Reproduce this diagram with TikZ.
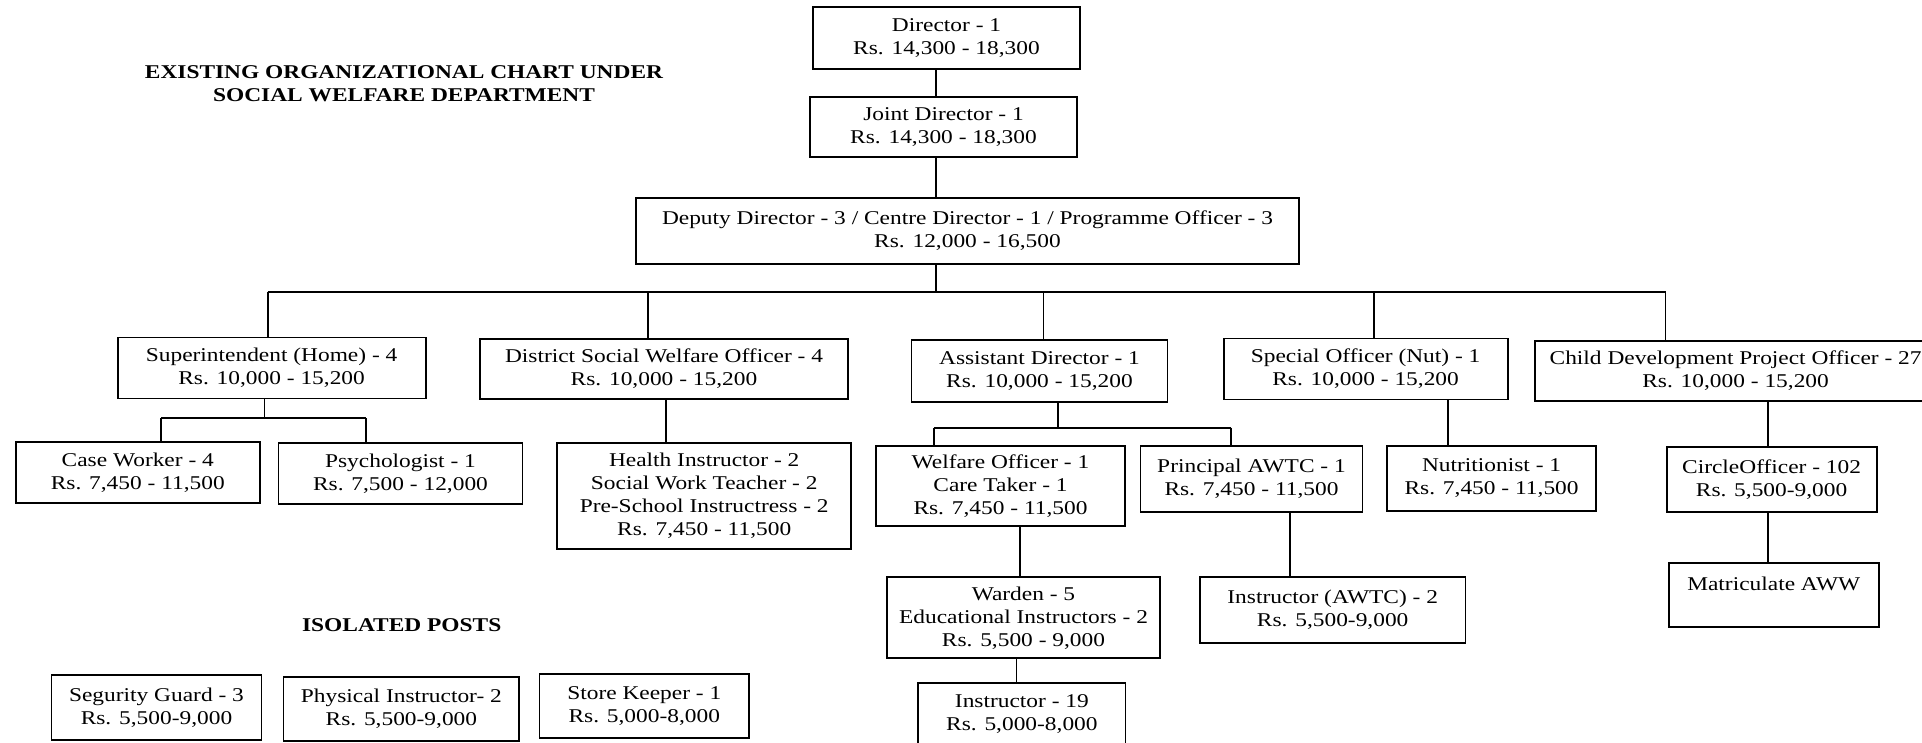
\documentclass[tikz,border=0pt]{standalone}
\usepackage{fontspec}
\setmainfont{Liberation Serif}[FakeStretch=1.2]
\newcommand\chartfont{\fontsize{9.75}{11.5}\selectfont}
\newcommand\charttitlefont{\fontsize{9.75}{11.5}\selectfont\bfseries}
\begin{document}
\begin{tikzpicture}[x=0.5pt,y=-0.5pt,
  box/.style={draw, line width=0.9pt, align=center, inner sep=0pt, font=\chartfont},
  wh/.style 2 args={minimum width=#1*0.5pt, minimum height=#2*0.5pt},
  conn/.style={line width=0.9pt},
  heading/.style={align=center, inner sep=0pt, font=\charttitlefont}]
\fill[white] (0,0) rectangle (1922,743);
\useasboundingbox (0,0) rectangle (1922,743);

% titles
\node[heading] (title) at (404,83.5) {EXISTING ORGANIZATIONAL CHART UNDER\\SOCIAL WELFARE DEPARTMENT};
\node[heading] (iso) at (401.7,625) {ISOLATED POSTS};

% top levels
\node[box, wh={267}{62}] (dir) at (946.5,38) {Director - 1\\Rs. 14,300 - 18,300};
\node[box, wh={267}{60}] (jd) at (943.5,127) {Joint Director - 1\\Rs. 14,300 - 18,300};
\node[box, wh={663}{66}] (dep) at (967.5,231) {Deputy Director - 3 / Centre Director - 1 / Programme Officer - 3\\Rs. 12,000 - 16,500};

% second level
\node[box, wh={308}{61}] (sup) at (271.6,368) {Superintendent (Home) - 4\\Rs. 10,000 - 15,200};
\node[box, wh={368}{60}] (dswo) at (664,369) {District Social Welfare Officer - 4\\Rs. 10,000 - 15,200};
\node[box, wh={256}{62}] (ad) at (1039.5,371) {Assistant Director - 1\\Rs. 10,000 - 15,200};
\node[box, wh={284}{61}] (so) at (1365.6,369) {Special Officer (Nut) - 1\\Rs. 10,000 - 15,200};
\node[box, wh={402}{60}] (cdpo) at (1735.6,370.7) {Child Development Project Officer - 27\\Rs. 10,000 - 15,200};

% third level
\node[box, wh={244}{61}] (cw) at (137.8,472.4) {Case Worker - 4\\Rs. 7,450 - 11,500};
\node[box, wh={244}{61}] (psy) at (400.5,473.7) {Psychologist - 1\\Rs. 7,500 - 12,000};
\node[box, wh={294}{106}] (hi) at (704.2,496) {Health Instructor - 2\\Social Work Teacher - 2\\Pre-School Instructress - 2\\Rs. 7,450 - 11,500};
\node[box, wh={248.5}{79.4}] (wo) at (1000.5,486) {Welfare Officer - 1\\Care Taker - 1\\Rs. 7,450 - 11,500};
\node[box, wh={222}{66}] (pa) at (1251.5,479) {Principal AWTC - 1\\Rs. 7,450 - 11,500};
\node[box, wh={209}{64.4}] (nut) at (1491.6,478.5) {Nutritionist - 1\\Rs. 7,450 - 11,500};
\node[box, wh={210}{64.7}] (co) at (1771.6,479.7) {CircleOfficer - 102\\Rs. 5,500-9,000};

% fourth level
\node[box, wh={273}{81}] (wa) at (1023.5,617.8) {Warden - 5\\Educational Instructors - 2\\Rs. 5,500 - 9,000};
\node[box, wh={265.5}{65.7}] (ia) at (1332.7,610) {Instructor (AWTC) - 2\\Rs. 5,500-9,000};
\node[box, wh={210}{64.3}] (ma) at (1773.7,594.8) {Matriculate AWW\\\mbox{}};
\node[box, wh={207.3}{62}] (i19) at (1021.9,713.7) {Instructor - 19\\Rs. 5,000-8,000};

% isolated posts
\node[box, wh={210}{64.7}] (sg) at (156.5,707.4) {Segurity Guard - 3\\Rs. 5,500-9,000};
\node[box, wh={235.8}{64.6}] (pi) at (401.4,709) {Physical Instructor- 2\\Rs. 5,500-9,000};
\node[box, wh={209.5}{64.3}] (sk) at (644.3,705.9) {Store Keeper - 1\\Rs. 5,000-8,000};

% connectors: spine
\coordinate (spine) at (935.7,0);
\coordinate (busL) at (267.6,292);
\coordinate (busR) at (1665.5,292);
\coordinate (d2) at (648,292);
\coordinate (d3) at (1043.5,292);
\coordinate (d4) at (1374,292);
\draw[conn] (dir.south -| spine) -- (jd.north -| spine);
\draw[conn] (jd.south -| spine) -- (dep.north -| spine);
\draw[conn] (dep.south -| spine) -- (spine |- busL);
\draw[conn] (busL) -- (busR);
\draw[conn] (busL) -- (sup.north -| busL);
\draw[conn] (d2) -- (dswo.north -| d2);
\draw[conn] (d3) -- (ad.north -| d3);
\draw[conn] (d4) -- (so.north -| d4);
\draw[conn] (busR) -- (cdpo.north -| busR);

% superintendent subtree
\coordinate (supj) at (264.5,418);
\coordinate (cwx) at (161,418);
\coordinate (psx) at (366,418);
\draw[conn] (sup.south -| supj) -- (supj);
\draw[conn] (cwx) -- (psx);
\draw[conn] (cwx) -- (cw.north -| cwx);
\draw[conn] (psx) -- (psy.north -| psx);

% DSWO
\coordinate (dsx) at (665.6,0);
\draw[conn] (dswo.south -| dsx) -- (hi.north -| dsx);

% assistant director subtree
\coordinate (adj) at (1057.8,427.7);
\coordinate (wox) at (933.8,427.7);
\coordinate (pax) at (1231,427.7);
\draw[conn] (ad.south -| adj) -- (adj);
\draw[conn] (wox) -- (pax);
\draw[conn] (wox) -- (wo.north -| wox);
\draw[conn] (pax) -- (pa.north -| pax);

% other single links
\coordinate (nutx) at (1447.9,0);
\draw[conn] (so.south -| nutx) -- (nut.north -| nutx);
\coordinate (cox) at (1767.6,0);
\draw[conn] (cdpo.south -| cox) -- (co.north -| cox);
\draw[conn] (co.south -| cox) -- (ma.north -| cox);
\coordinate (wax) at (1019.8,0);
\draw[conn] (wo.south -| wax) -- (wa.north -| wax);
\coordinate (iax) at (1290,0);
\draw[conn] (pa.south -| iax) -- (ia.north -| iax);
\coordinate (i19x) at (1016.5,0);
\draw[conn] (wa.south -| i19x) -- (i19.north -| i19x);
\end{tikzpicture}
\end{document}
